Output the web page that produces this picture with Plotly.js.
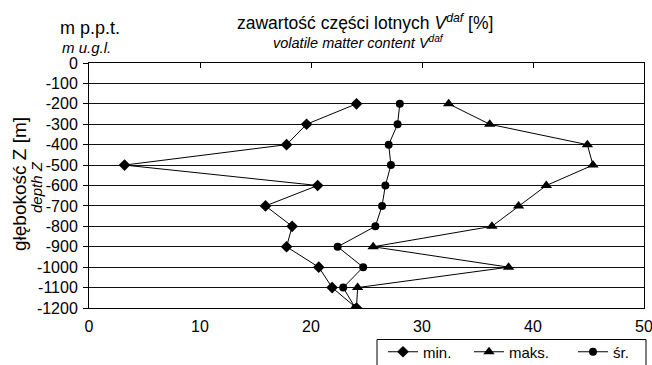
<!DOCTYPE html>
<html><head><meta charset="utf-8">
<script src="https://cdn.plot.ly/plotly-3.0.1.min.js"></script>
<style>body{margin:0;background:#fff}#c{width:652px;height:365px}</style>
</head><body><div id="c"></div>
<script>
const depth = [-200,-300,-400,-500,-600,-700,-800,-900,-1000,-1100,-1200];
const vMin  = [24.1,19.6,17.8,3.2,20.6,15.9,18.3,17.8,20.7,21.9,24.1];
const vMax  = [32.4,36.1,44.9,45.4,41.2,38.7,36.3,25.6,37.8,24.2,24.1];
const vMean = [28.0,27.8,27.0,27.2,26.7,26.4,25.8,22.4,24.7,22.9,24.0];
const names = ['min.','maks.','śr.'];
const xTicks = [0,10,20,30,40,50];
const yTicks = [0,-100,-200,-300,-400,-500,-600,-700,-800,-900,-1000,-1100,-1200];
const yTickText = ['0','-100','-200','-300','-400','-500','-600','-700','-800','-900','-1000','-1100','-1200'];

const F = 'Liberation Sans, Arial, sans-serif';
function tr(x, name, sym, sz, lg){
  return {x:x, y:depth, name:name, type:'scatter', mode:'lines+markers', legend:lg,
    line:{color:'#000', width:1}, marker:{symbol:sym, size:sz, color:'#000'}};
}
const data = [
  tr(vMin, names[0], 'diamond', 9, 'legend'),
  tr(vMax, names[1], 'triangle-up', 10, 'legend2'),
  tr(vMean, names[2], 'circle', 8, 'legend3'),
  {x:[0,50], y:[0,0], xaxis:'x2', type:'scatter', mode:'none', showlegend:false, hoverinfo:'skip'}
];
const pw = 652-89-8, ph = 365-63-57;
const px = v => (v-89)/pw, py = v => 1-(v-63)/ph;
function leg(xpix){
  return {orientation:'h', x:px(xpix), xanchor:'left', y:py(352), yanchor:'middle',
    borderwidth:0, bgcolor:'rgba(0,0,0,0)', font:{size:15, family:F}};
}
const layout = {
  width:652, height:365,
  margin:{l:89, r:8, t:63, b:57, autoexpand:false},
  paper_bgcolor:'#fff', plot_bgcolor:'#fff',
  font:{family:F, color:'#000', size:15},
  showlegend:true,
  legend:leg(383), legend2:leg(469), legend3:leg(573),
  xaxis:{range:[0,50], tickvals:xTicks, ticks:'', showgrid:false, zeroline:false,
    showline:true, linecolor:'#000', linewidth:1, mirror:true, ticklabelstandoff:4,
    ticklabeloverflow:'allow', tickfont:{size:16, family:F}},
  xaxis2:{range:[0,50], overlaying:'x', side:'top', tickvals:xTicks, ticks:'inside',
    ticklen:5, tickcolor:'#000', showticklabels:false, showgrid:false, zeroline:false, showline:false},
  yaxis:{range:[-1200,0], tickvals:yTicks, ticktext:yTickText, ticks:'outside', ticklen:5, tickcolor:'#000',
    showgrid:true, gridcolor:'#111', gridwidth:1, zeroline:false,
    showline:true, linecolor:'#000', linewidth:1, mirror:true, ticklabelstandoff:2,
    ticklabeloverflow:'allow', tickfont:{size:16, family:F}},
  shapes:[{type:'rect', xref:'paper', yref:'paper', x0:px(377), x1:px(646), y0:py(380), y1:py(339.5),
    line:{color:'#000', width:1}, fillcolor:'rgba(0,0,0,0)'}],
  annotations:[
    {text:'zawartość części lotnych <i>V</i><sup><i>daf</i></sup> [%]', x:365, y:22, showarrow:false, font:{size:17.5}},
    {text:'<i>volatile matter content V<sup>daf</sup></i>', x:358, y:42, showarrow:false, font:{size:14.5}},
    {text:'m p.p.t.', x:90, y:28, showarrow:false, font:{size:18}},
    {text:'<i>m u.g.l.</i>', x:86, y:47, showarrow:false, font:{size:15}},
    {text:'głębokość Z [m]', x:19, y:184, textangle:-90, showarrow:false, font:{size:19}},
    {text:'<i>depth Z</i>', x:36, y:187, textangle:-90, showarrow:false, font:{size:15}}
  ]
};
layout.annotations.forEach(a=>{
  a.xref='paper'; a.yref='paper';
  a.x = px(a.x); a.y = py(a.y);
  a.xanchor='center'; a.yanchor='middle';
});
Plotly.newPlot('c', data, layout, {displayModeBar:false, staticPlot:true});
</script></body></html>
